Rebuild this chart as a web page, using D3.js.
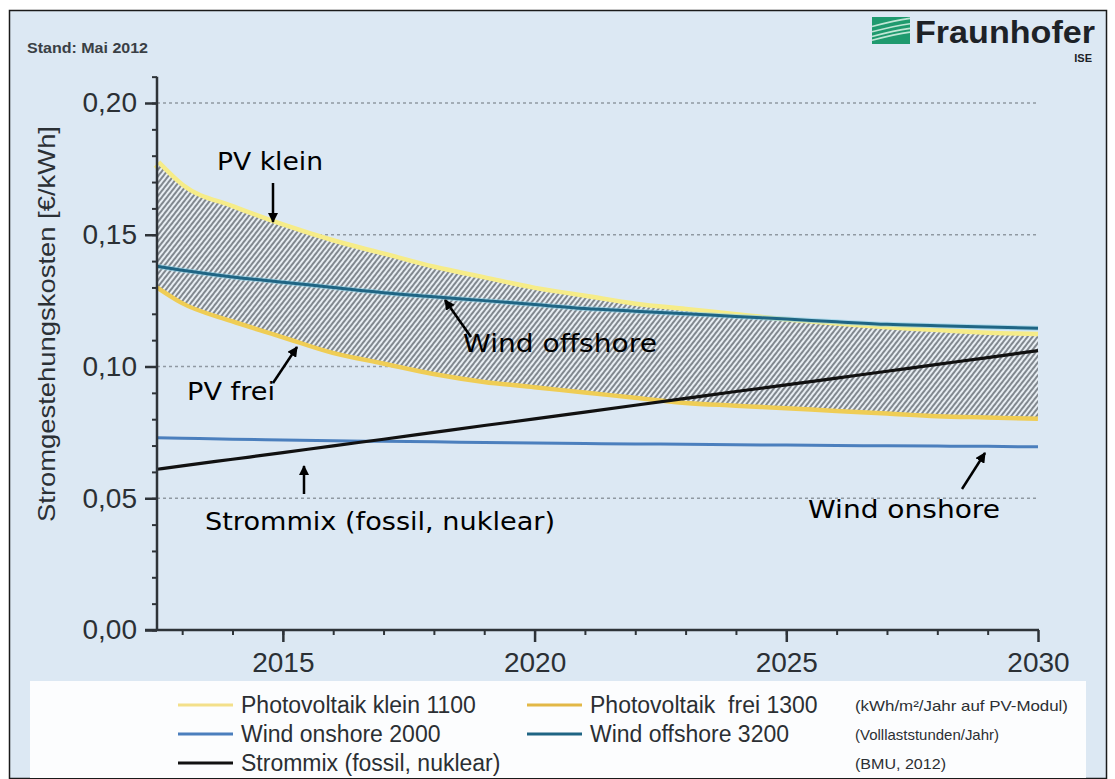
<!DOCTYPE html>
<html>
<head>
<meta charset="utf-8">
<script src="https://cdn.jsdelivr.net/npm/d3@7"></script>
<style>
html,body{margin:0;padding:0;background:#fff;}
svg{display:block;}
text{white-space:pre;}
</style>
</head>
<body>
<svg id="chart" width="1115" height="779"></svg>
<script>
// ---- data ----
const years = [2012.5, 2013, 2014, 2015, 2016, 2017, 2018, 2019, 2020, 2021, 2022, 2023, 2024, 2025, 2026, 2027, 2028, 2029, 2030];
const pvKlein   = [0.177, 0.168, 0.160, 0.153, 0.147, 0.142, 0.137, 0.133, 0.129, 0.126, 0.123, 0.121, 0.119, 0.117, 0.1155, 0.114, 0.113, 0.112, 0.1115];
const pvFrei    = [0.131, 0.125, 0.118, 0.112, 0.106, 0.102, 0.098, 0.095, 0.093, 0.091, 0.089, 0.087, 0.086, 0.085, 0.084, 0.083, 0.082, 0.0815, 0.081];
const windOff   = [0.138, 0.1365, 0.134, 0.132, 0.130, 0.128, 0.1265, 0.125, 0.1235, 0.122, 0.121, 0.120, 0.119, 0.118, 0.117, 0.116, 0.1155, 0.115, 0.1145];
const windOn    = [0.073, 0.0728, 0.0724, 0.0721, 0.0718, 0.0716, 0.0714, 0.0712, 0.071, 0.0708, 0.0706, 0.0705, 0.0703, 0.0702, 0.070, 0.0699, 0.0698, 0.0697, 0.0695];
const strommix  = [0.061, 0.0623, 0.0648, 0.0673, 0.0699, 0.0724, 0.075, 0.0776, 0.0801, 0.0827, 0.0853, 0.0879, 0.0905, 0.093, 0.0956, 0.0982, 0.1008, 0.1034, 0.106];
const yTicks = [0, 0.05, 0.10, 0.15, 0.20];
const yTickLabels = ["0,00", "0,05", "0,10", "0,15", "0,20"];
const xTicks = [2015, 2020, 2025, 2030];
const xTickLabels = ["2015", "2020", "2025", "2030"];
const legendLabels = ["Photovoltaik klein 1100", "Photovoltaik  frei 1300", "Wind onshore 2000", "Wind offshore 3200", "Strommix (fossil, nuklear)"];
const legendNotes = ["(kWh/m²/Jahr auf PV-Modul)", "(Volllaststunden/Jahr)", "(BMU, 2012)"];

// ---- setup ----
const svg = d3.select("#chart");
const W = 1115, H = 779;
const x = d3.scaleLinear().domain([2012.5, 2030]).range([157, 1038]);
const y = d3.scaleLinear().domain([0, 0.20]).range([630, 103]);

// background
svg.append("rect").attr("x", 0).attr("y", 0).attr("width", W).attr("height", H).attr("fill", "#ffffff");
svg.append("rect").attr("x", 9.5).attr("y", 10.5).attr("width", 1097).attr("height", 768)
  .attr("fill", "#dce8f3").attr("stroke", "#1a1a1a").attr("stroke-width", 1.5);

// legend box
svg.append("rect").attr("x", 30).attr("y", 681).attr("width", 1056).attr("height", 97).attr("fill", "#fcfdfe");

const defs = svg.append("defs");
const pat = defs.append("pattern").attr("id", "hatch").attr("patternUnits", "userSpaceOnUse")
  .attr("width", 4).attr("height", 4).attr("patternTransform", "rotate(38)");
pat.append("rect").attr("width", 4).attr("height", 4).attr("fill", "#e8eef3");
pat.append("line").attr("x1", 1).attr("y1", 0).attr("x2", 1).attr("y2", 4).attr("stroke", "#5f666e").attr("stroke-width", 1.5);

// grid lines
svg.append("g").selectAll("line").data(yTicks.filter(d => d > 0)).join("line")
  .attr("x1", x(2012.5)).attr("x2", x(2030)).attr("y1", d => y(d)).attr("y2", d => y(d))
  .attr("stroke", "#9099a2").attr("stroke-width", 1.6).attr("stroke-dasharray", "3,3");

// "Stand"
svg.append("text").attr("x", 27).attr("y", 53).text("Stand: Mai 2012")
  .attr("font-family", "Liberation Sans, Arial, sans-serif").attr("font-size", 14.5).attr("font-weight", "bold")
  .attr("fill", "#3a3f45").attr("textLength", 121).attr("lengthAdjust", "spacingAndGlyphs");

// Fraunhofer logo
const logo = svg.append("g");
logo.append("rect").attr("x", 872).attr("y", 17).attr("width", 38).attr("height", 27).attr("fill", "#1f9a6e");
const stripeYs = [0.35, 0.55, 0.72, 0.86];
logo.selectAll("path.s").data(stripeYs).join("path")
  .attr("d", d => `M872,${17 + 27 * d} Q895,${17 + 27 * d - 6} 910,${17 + 27 * (d - 0.3)}`)
  .attr("stroke", "#bfe6d5").attr("stroke-width", 1.6).attr("fill", "none");
logo.append("text").attr("x", 915).attr("y", 43).text("Fraunhofer")
  .attr("font-family", "Liberation Sans, Arial, sans-serif").attr("font-size", 31).attr("font-weight", "bold")
  .attr("fill", "#1d2227").attr("textLength", 180).attr("lengthAdjust", "spacingAndGlyphs");
logo.append("text").attr("x", 1092).attr("y", 62).attr("text-anchor", "end").text("ISE")
  .attr("font-family", "Liberation Sans, Arial, sans-serif").attr("font-size", 11).attr("font-weight", "bold")
  .attr("fill", "#1d2227");

// lines
const line = vals => d3.line().x((d, i) => x(years[i])).y((d, i) => y(vals[i])).curve(d3.curveMonotoneX)(vals);
const area = d3.area().x((d, i) => x(years[i])).y0((d, i) => y(pvFrei[i])).y1((d, i) => y(pvKlein[i])).curve(d3.curveMonotoneX);

// PV glow lines
svg.append("path").attr("d", line(pvKlein)).attr("fill", "none").attr("stroke", "#f6ec88").attr("stroke-width", 9);
svg.append("path").attr("d", line(pvFrei)).attr("fill", "none").attr("stroke", "#efcd55").attr("stroke-width", 9);
// hatch area
svg.append("path").attr("d", area(years)).attr("fill", "url(#hatch)");
// wind offshore
svg.append("path").attr("d", line(windOff)).attr("fill", "none").attr("stroke", "#8fd0e6").attr("stroke-width", 5).attr("opacity", 0.6);
svg.append("path").attr("d", line(windOff)).attr("fill", "none").attr("stroke", "#1f6584").attr("stroke-width", 3);
// wind onshore
svg.append("path").attr("d", line(windOn)).attr("fill", "none").attr("stroke", "#4b7fbd").attr("stroke-width", 3);
// strommix
svg.append("path").attr("d", line(strommix)).attr("fill", "none").attr("stroke", "#111").attr("stroke-width", 3.2);

// axes
const axisColor = "#2e3338";
const tickFont = "Liberation Sans, Arial, sans-serif";
const yAxis = d3.axisLeft(y).tickValues(yTicks).tickFormat((d, i) => yTickLabels[i]).tickSize(12).tickPadding(8);
const gy = svg.append("g").attr("transform", `translate(${x(2012.5)},0)`).call(yAxis);
gy.select(".domain").remove();
gy.selectAll(".tick line").attr("stroke", axisColor).attr("stroke-width", 2.5);
gy.selectAll(".tick text").attr("font-family", tickFont).attr("font-size", 28).attr("fill", "#2b3035");
const yMinor = d3.axisLeft(y).tickValues(d3.range(0, 0.2101, 0.01)).tickFormat("").tickSize(5);
const gym = svg.append("g").attr("transform", `translate(${x(2012.5)},0)`).call(yMinor);
gym.select(".domain").remove();
gym.selectAll(".tick line").attr("stroke", axisColor).attr("stroke-width", 2);
svg.append("line").attr("x1", x(2012.5)).attr("x2", x(2012.5)).attr("y1", y(0.21)).attr("y2", y(0) + 1)
  .attr("stroke", axisColor).attr("stroke-width", 2.5);

const xAxis = d3.axisBottom(x).tickValues(xTicks).tickFormat((d, i) => xTickLabels[i]).tickSize(12).tickPadding(10);
const gx = svg.append("g").attr("transform", `translate(0,${y(0)})`).call(xAxis);
gx.select(".domain").remove();
gx.selectAll(".tick line").attr("stroke", axisColor).attr("stroke-width", 2.5);
gx.selectAll(".tick text").attr("font-family", tickFont).attr("font-size", 28).attr("fill", "#2b3035");
const xMinor = d3.axisBottom(x).tickValues(d3.range(2013, 2030, 1)).tickFormat("").tickSize(5);
const gxm = svg.append("g").attr("transform", `translate(0,${y(0)})`).call(xMinor);
gxm.select(".domain").remove();
gxm.selectAll(".tick line").attr("stroke", axisColor).attr("stroke-width", 2);
svg.append("line").attr("x1", 145).attr("x2", x(2030) + 1).attr("y1", y(0)).attr("y2", y(0))
  .attr("stroke", axisColor).attr("stroke-width", 2.5);

// y title
svg.append("text").attr("transform", `translate(55,${(126 + 522) / 2}) rotate(-90)`).attr("text-anchor", "middle")
  .text("Stromgestehungskosten [€/kWh]")
  .attr("font-family", "Liberation Sans, Arial, sans-serif").attr("font-size", 24.5).attr("fill", "#2b3035")
  .attr("textLength", 396).attr("lengthAdjust", "spacingAndGlyphs");

// annotations
defs.append("marker").attr("id", "arrow").attr("viewBox", "0 0 10 10").attr("refX", 9).attr("refY", 5)
  .attr("markerWidth", 4.2).attr("markerHeight", 4.2).attr("orient", "auto")
  .append("path").attr("d", "M0,0 L10,5 L0,10 z").attr("fill", "#000");
const annFont = "DejaVu Sans, Verdana, sans-serif";
const anns = [
  {t: "PV klein", tx: 217, ty: 170, w: 106, ax1: 273, ay1: 183, ax2: 273, ay2: 222},
  {t: "PV frei", tx: 187, ty: 400, w: 88, ax1: 273, ay1: 383, ax2: 297, ay2: 347},
  {t: "Wind offshore", tx: 463, ty: 352, w: 194, ax1: 471, ay1: 337, ax2: 445, ay2: 300},
  {t: "Strommix (fossil, nuklear)", tx: 205, ty: 530, w: 350, ax1: 304, ay1: 494, ax2: 304, ay2: 466},
  {t: "Wind onshore", tx: 808, ty: 518, w: 192, ax1: 962, ay1: 489, ax2: 985, ay2: 453}
];
const ga = svg.append("g");
ga.selectAll("text").data(anns).join("text").attr("x", d => d.tx).attr("y", d => d.ty).text(d => d.t)
  .attr("font-family", annFont).attr("font-size", 25.5).attr("fill", "#000")
  .attr("textLength", d => d.w).attr("lengthAdjust", "spacingAndGlyphs");
ga.selectAll("line").data(anns).join("line").attr("x1", d => d.ax1).attr("y1", d => d.ay1).attr("x2", d => d.ax2).attr("y2", d => d.ay2)
  .attr("stroke", "#000").attr("stroke-width", 2.5).attr("marker-end", "url(#arrow)");

// legend
const legFont = "Liberation Sans, Arial, sans-serif";
const legItems = [
  {i: 0, c: "#f3e08a", sx: 178, row: 0},
  {i: 1, c: "#e2b846", sx: 527, row: 0},
  {i: 2, c: "#4b7fbd", sx: 178, row: 1},
  {i: 3, c: "#1f6584", sx: 527, row: 1},
  {i: 4, c: "#111111", sx: 178, row: 2}
];
const rowY = [705, 734, 763];
const lg = svg.append("g");
lg.selectAll("line").data(legItems).join("line").attr("x1", d => d.sx).attr("x2", d => d.sx + 55)
  .attr("y1", d => rowY[d.row]).attr("y2", d => rowY[d.row]).attr("stroke", d => d.c).attr("stroke-width", 3);
lg.selectAll("text").data(legItems).join("text").attr("x", d => d.sx + 63).attr("y", d => rowY[d.row] + 8)
  .text(d => legendLabels[d.i]).attr("font-family", legFont).attr("font-size", 23).attr("fill", "#2b2f33");
lg.selectAll("text.note").data(legendNotes).join("text").attr("class", "note").attr("x", 855).attr("y", (d, i) => rowY[i] + 6)
  .text(d => d).attr("font-family", legFont).attr("font-size", 15).attr("fill", "#2b2f33")
  .attr("textLength", (d, i) => [213, 144, 91][i]).attr("lengthAdjust", "spacingAndGlyphs");
</script>
</body>
</html>
